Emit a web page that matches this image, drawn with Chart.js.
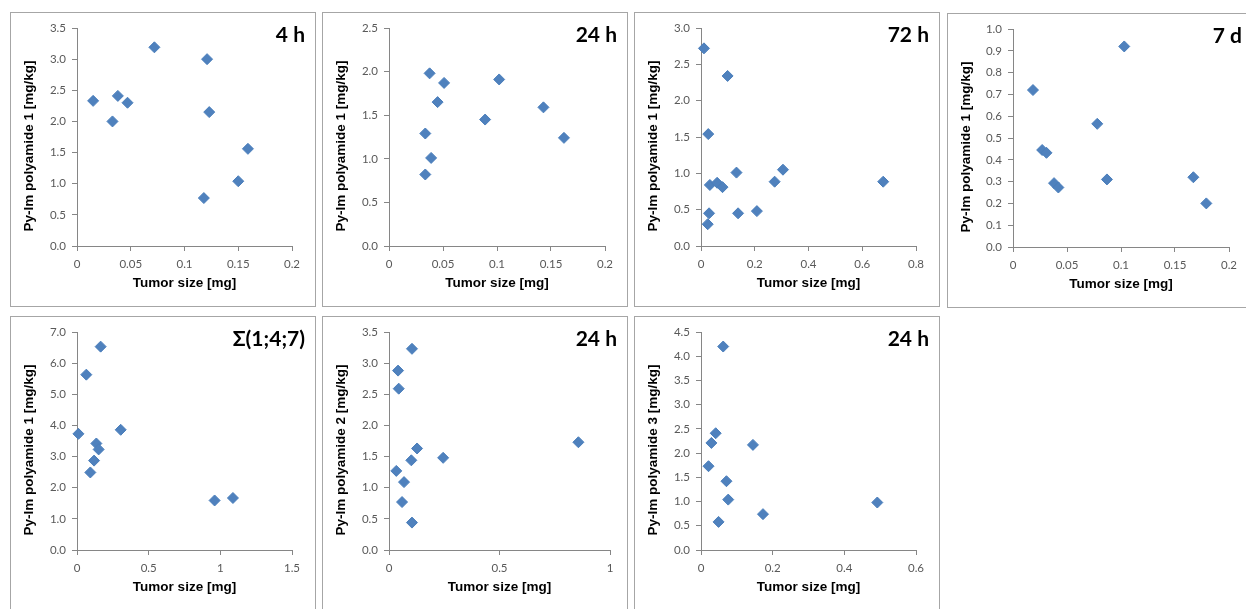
<!DOCTYPE html>
<html>
<head>
<meta charset="utf-8">
<script src="https://cdn.jsdelivr.net/npm/chart.js@4/dist/chart.umd.min.js"></script>
<style>
  body { margin: 0; background: #fff; width: 1246px; height: 609px; overflow: hidden; position: relative; }
  .panel { position: absolute; width: 304px; height: 293px; border: 1px solid #a6a6a6; background: #fff; }
  .panel canvas { display: block; }
</style>
</head>
<body>
<div class="panel" style="left:10px;top:12px"><canvas id="c0" width="304" height="293"></canvas></div>
<div class="panel" style="left:322px;top:12px"><canvas id="c1" width="304" height="293"></canvas></div>
<div class="panel" style="left:634px;top:12px"><canvas id="c2" width="304" height="293"></canvas></div>
<div class="panel" style="left:947px;top:13px"><canvas id="c3" width="304" height="293"></canvas></div>
<div class="panel" style="left:10px;top:316px"><canvas id="c4" width="304" height="293"></canvas></div>
<div class="panel" style="left:322px;top:316px"><canvas id="c5" width="304" height="293"></canvas></div>
<div class="panel" style="left:634px;top:316px"><canvas id="c6" width="304" height="293"></canvas></div>
<script>
// panel labels and axis titles
const panelLabels = ['4 h', '24 h', '72 h', '7 d', 'Σ(1;4;7)', '24 h', '24 h'];
const yTitles = [
  'Py-Im polyamide 1 [mg/kg]', 'Py-Im polyamide 1 [mg/kg]', 'Py-Im polyamide 1 [mg/kg]',
  'Py-Im polyamide 1 [mg/kg]', 'Py-Im polyamide 1 [mg/kg]', 'Py-Im polyamide 2 [mg/kg]',
  'Py-Im polyamide 3 [mg/kg]'
];
const xTitle = 'Tumor size [mg]';

// axis ranges (max, step)
const xMax = [0.2, 0.2, 0.8, 0.2, 1.5, 1, 0.6];
const xStep = [0.05, 0.05, 0.2, 0.05, 0.5, 0.5, 0.2];
const yMax = [3.5, 2.5, 3.0, 1.0, 7.0, 3.5, 4.5];
const yStep = [0.5, 0.5, 0.5, 0.1, 1, 0.5, 0.5];

// data
const tumor4h = [0.015, 0.033, 0.038, 0.047, 0.072, 0.121, 0.123, 0.118, 0.150, 0.159];
const py1_4h  = [2.33, 2.00, 2.41, 2.30, 3.19, 3.00, 2.15, 0.77, 1.04, 1.56];

const tumor24h = [0.0376, 0.051, 0.045, 0.0336, 0.039, 0.0336, 0.089, 0.102, 0.143, 0.162];
const py1_24h  = [1.98, 1.87, 1.65, 1.29, 1.01, 0.82, 1.45, 1.91, 1.59, 1.24];

const tumor72h = [0.011, 0.099, 0.027, 0.132, 0.305, 0.274, 0.678, 0.033, 0.060, 0.080, 0.030, 0.138, 0.208, 0.025];
const py1_72h  = [2.72, 2.34, 1.54, 1.01, 1.05, 0.885, 0.885, 0.84, 0.87, 0.81, 0.45, 0.45, 0.48, 0.30];

const tumor7d = [0.0185, 0.103, 0.078, 0.027, 0.031, 0.038, 0.042, 0.087, 0.167, 0.179];
const py1_7d  = [0.72, 0.92, 0.565, 0.445, 0.432, 0.293, 0.273, 0.31, 0.32, 0.20];

const tumorSum = [0.165, 0.065, 0.01, 0.305, 0.135, 0.151, 0.119, 0.093, 0.960, 1.088];
const py1Sum   = [6.53, 5.63, 3.73, 3.86, 3.42, 3.23, 2.87, 2.49, 1.59, 1.67];

const tumorPy2 = [0.104, 0.041, 0.044, 0.857, 0.127, 0.245, 0.101, 0.033, 0.068, 0.059, 0.104];
const py2_24h  = [3.23, 2.88, 2.59, 1.73, 1.63, 1.48, 1.44, 1.27, 1.09, 0.77, 0.44];

const tumorPy3 = [0.062, 0.041, 0.029, 0.145, 0.021, 0.071, 0.076, 0.492, 0.173, 0.049];
const py3_24h  = [4.20, 2.41, 2.21, 2.17, 1.73, 1.42, 1.04, 0.98, 0.74, 0.58];

const xs = [tumor4h, tumor24h, tumor72h, tumor7d, tumorSum, tumorPy2, tumorPy3];
const ys = [py1_4h, py1_24h, py1_72h, py1_7d, py1Sum, py2_24h, py3_24h];

// plot area offsets inside each canvas
const plotLeft = [66, 66, 66, 65, 66, 66, 66];
const plotRight = [23, 22, 23, 23, 23, 17, 23];

const axisColor = '#868686';
const tickFont = { family: 'Lato, "Liberation Sans", sans-serif', size: 11.5 };
const titleFont = { family: '"Liberation Sans", Arial, sans-serif', size: 13.5, weight: 'bold' };

// corner label ("4 h" etc.) and the y axis title, which sits a bit below the axis middle
const panelText = {
  id: 'panelText',
  afterDraw(chart, args, opts) {
    const ctx = chart.ctx;
    const area = chart.chartArea;
    ctx.save();
    ctx.fillStyle = '#000';
    ctx.font = 'bold 21px Lato, "Open Sans", "DejaVu Sans", sans-serif';
    ctx.textAlign = 'right';
    ctx.textBaseline = 'alphabetic';
    ctx.fillText(opts.label, 294, 29);

    ctx.translate(18, (area.top + area.bottom) / 2 + 9);
    ctx.rotate(-Math.PI / 2);
    ctx.font = 'bold 13.5px "Liberation Sans", Arial, sans-serif';
    ctx.textAlign = 'center';
    ctx.textBaseline = 'middle';
    ctx.fillText(opts.yTitle, 0, 0);
    ctx.restore();
  }
};

for (let i = 0; i < 7; i++) {
  const points = xs[i].map((x, k) => ({ x: x, y: ys[i][k] }));
  new Chart(document.getElementById('c' + i), {
    type: 'scatter',
    data: {
      datasets: [{
        data: points,
        pointStyle: 'rectRot',
        pointRadius: 5.5,
        pointBackgroundColor: '#4F81BD',
        pointBorderColor: '#4A7EBB',
        pointBorderWidth: 1,
        clip: false
      }]
    },
    options: {
      responsive: false,
      animation: false,
      layout: { padding: { left: 0, top: 15, right: plotRight[i], bottom: 0 } },
      plugins: {
        legend: { display: false },
        tooltip: { enabled: false },
        panelText: { label: panelLabels[i], yTitle: yTitles[i] }
      },
      scales: {
        x: {
          type: 'linear',
          min: 0,
          max: xMax[i],
          afterFit: s => { s.height = 60; },
          border: { display: true, color: axisColor, width: 1 },
          grid: { drawOnChartArea: false, drawTicks: true, tickLength: 5, color: axisColor },
          ticks: {
            stepSize: xStep[i],
            color: '#595959',
            font: tickFont,
            padding: 6,
            maxRotation: 0,
            callback: v => String(Number(v.toFixed(4)))
          },
          title: { display: true, text: xTitle, color: '#000', font: titleFont, padding: { top: 0, bottom: 15 } }
        },
        y: {
          type: 'linear',
          min: 0,
          max: yMax[i],
          afterFit: s => { s.width = plotLeft[i]; },
          border: { display: true, color: axisColor, width: 1 },
          grid: { drawOnChartArea: false, drawTicks: true, tickLength: 5, color: axisColor },
          ticks: {
            stepSize: yStep[i],
            color: '#595959',
            font: tickFont,
            padding: 6,
            callback: v => v.toFixed(1)
          }
        }
      }
    },
    plugins: [panelText]
  });
}
</script>
</body>
</html>
